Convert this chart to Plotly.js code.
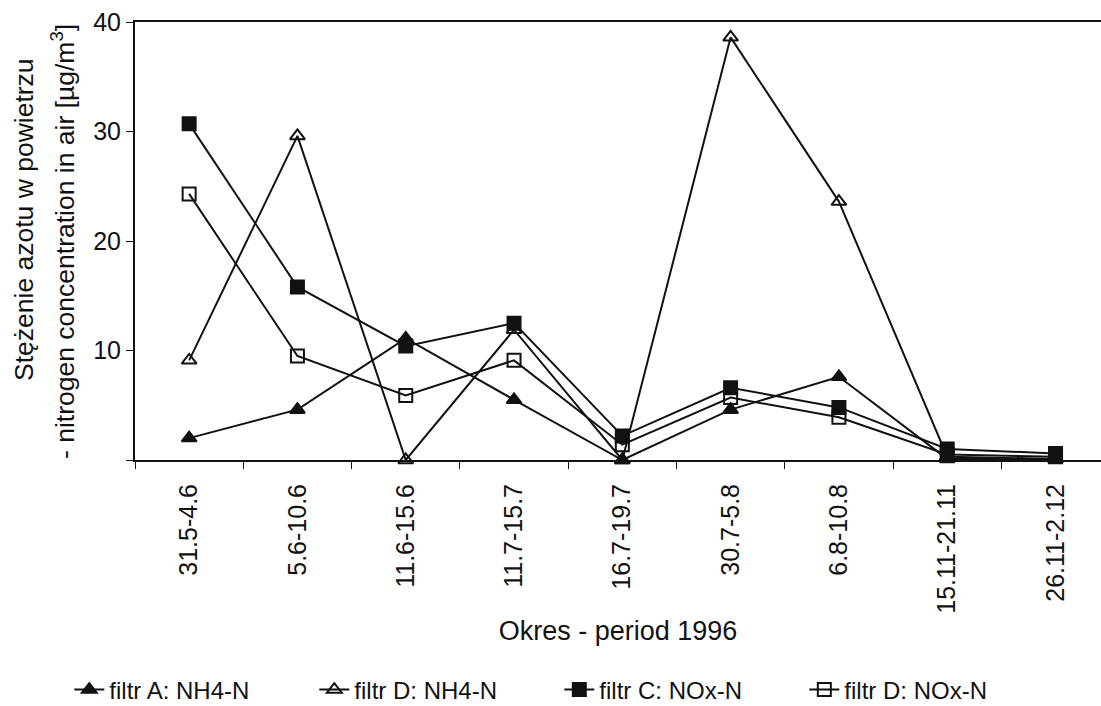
<!DOCTYPE html>
<html>
<head>
<meta charset="utf-8">
<script src="https://cdn.plot.ly/plotly-3.0.1.min.js"></script>
<style>html,body{margin:0;padding:0;background:#fff;}</style>
</head>
<body>
<div id="chart" style="width:1101px;height:706px;"></div>
<script>
const periods = ["31.5-4.6","5.6-10.6","11.6-15.6","11.7-15.7","16.7-19.7","30.7-5.8","6.8-10.8","15.11-21.11","26.11-2.12"];
const filtrA_NH4 = [2.0, 4.6, 11.1, 5.5, 0.0, 4.6, 7.6, 0.1, 0.1];
const filtrD_NH4 = [9.1, 29.6, 0.0, 11.9, 0.0, 38.6, 23.6, 0.3, 0.1];
const filtrC_NOx = [30.7, 15.8, 10.4, 12.5, 2.2, 6.6, 4.8, 1.0, 0.6];
const filtrD_NOx = [24.3, 9.5, 5.9, 9.1, 1.4, 5.7, 3.9, 0.5, 0.3];
const seriesNames = ["filtr A: NH4-N","filtr D: NH4-N","filtr C: NOx-N","filtr D: NOx-N"];
const yTickVals = [0,10,20,30,40];
const yTickText = ["","10","20","30","40"];
const yTitleLines = ["Stężenie azotu w powietrzu", "- nitrogen concentration in air [µg/m<sup>3</sup>]"];

const symbols = ["triangle-up","triangle-up-open","square","square-open"];
const data = [filtrA_NH4, filtrD_NH4, filtrC_NOx, filtrD_NOx].map((ys,i)=>({
  type:"scatter", mode:"lines+markers", x:periods, y:ys, name:seriesNames[i],
  line:{color:"#111", width:2},
  marker:{symbol:symbols[i], size:13, color:"#111", line:{color:"#111", width:2}},
  cliponaxis:false
}));

// plot area: left 135, width 966, top 22, height 438
const px2x = p => (p-135)/966;
const py2y = p => (460-p)/438;

const layout = {
  width:1101, height:706,
  margin:{l:135, r:0, t:22, b:246, autoexpand:false},
  paper_bgcolor:"#fff", plot_bgcolor:"#fff",
  font:{family:"Liberation Sans, Arial, sans-serif", color:"#111"},
  showlegend:true,
  legend:{orientation:"h", x:-0.068, xanchor:"left", y:py2y(690), yanchor:"middle",
          font:{size:24, color:"#111"}, entrywidth:200, traceorder:"normal"},
  xaxis:{type:"category", range:[-0.5, 8.42], showline:true, linecolor:"#111", linewidth:2,
         mirror:true, ticks:"outside", ticklen:7, tickcolor:"#111", tickwidth:1,
         tickson:"boundaries", tickangle:-90, tickfont:{size:25, color:"#111"},
         ticklabelstandoff:12, automargin:false,
         showgrid:false, zeroline:false,
         title:{text:"Okres - period 1996", font:{size:27, color:"#111"}, standoff:8}},
  yaxis:{range:[0,40], tickvals:yTickVals, ticktext:yTickText, showline:true, linecolor:"#111", linewidth:2,
         ticks:"outside", ticklen:7, tickcolor:"#111", tickwidth:1, automargin:false,
         tickfont:{size:25, color:"#111"}, showgrid:false, zeroline:false},
  annotations:[
    {text:yTitleLines[0], xref:"paper", yref:"paper", x:px2x(24), y:py2y(220), xanchor:"center", yanchor:"middle",
     textangle:-90, showarrow:false, font:{size:26.5, color:"#111"}},
    {text:yTitleLines[1], xref:"paper", yref:"paper", x:px2x(63), y:py2y(242), xanchor:"center", yanchor:"middle",
     textangle:-90, showarrow:false, font:{size:26.5, color:"#111"}}
  ]
};
Plotly.newPlot("chart", data, layout, {displayModeBar:false, staticPlot:true});
</script>
</body>
</html>
